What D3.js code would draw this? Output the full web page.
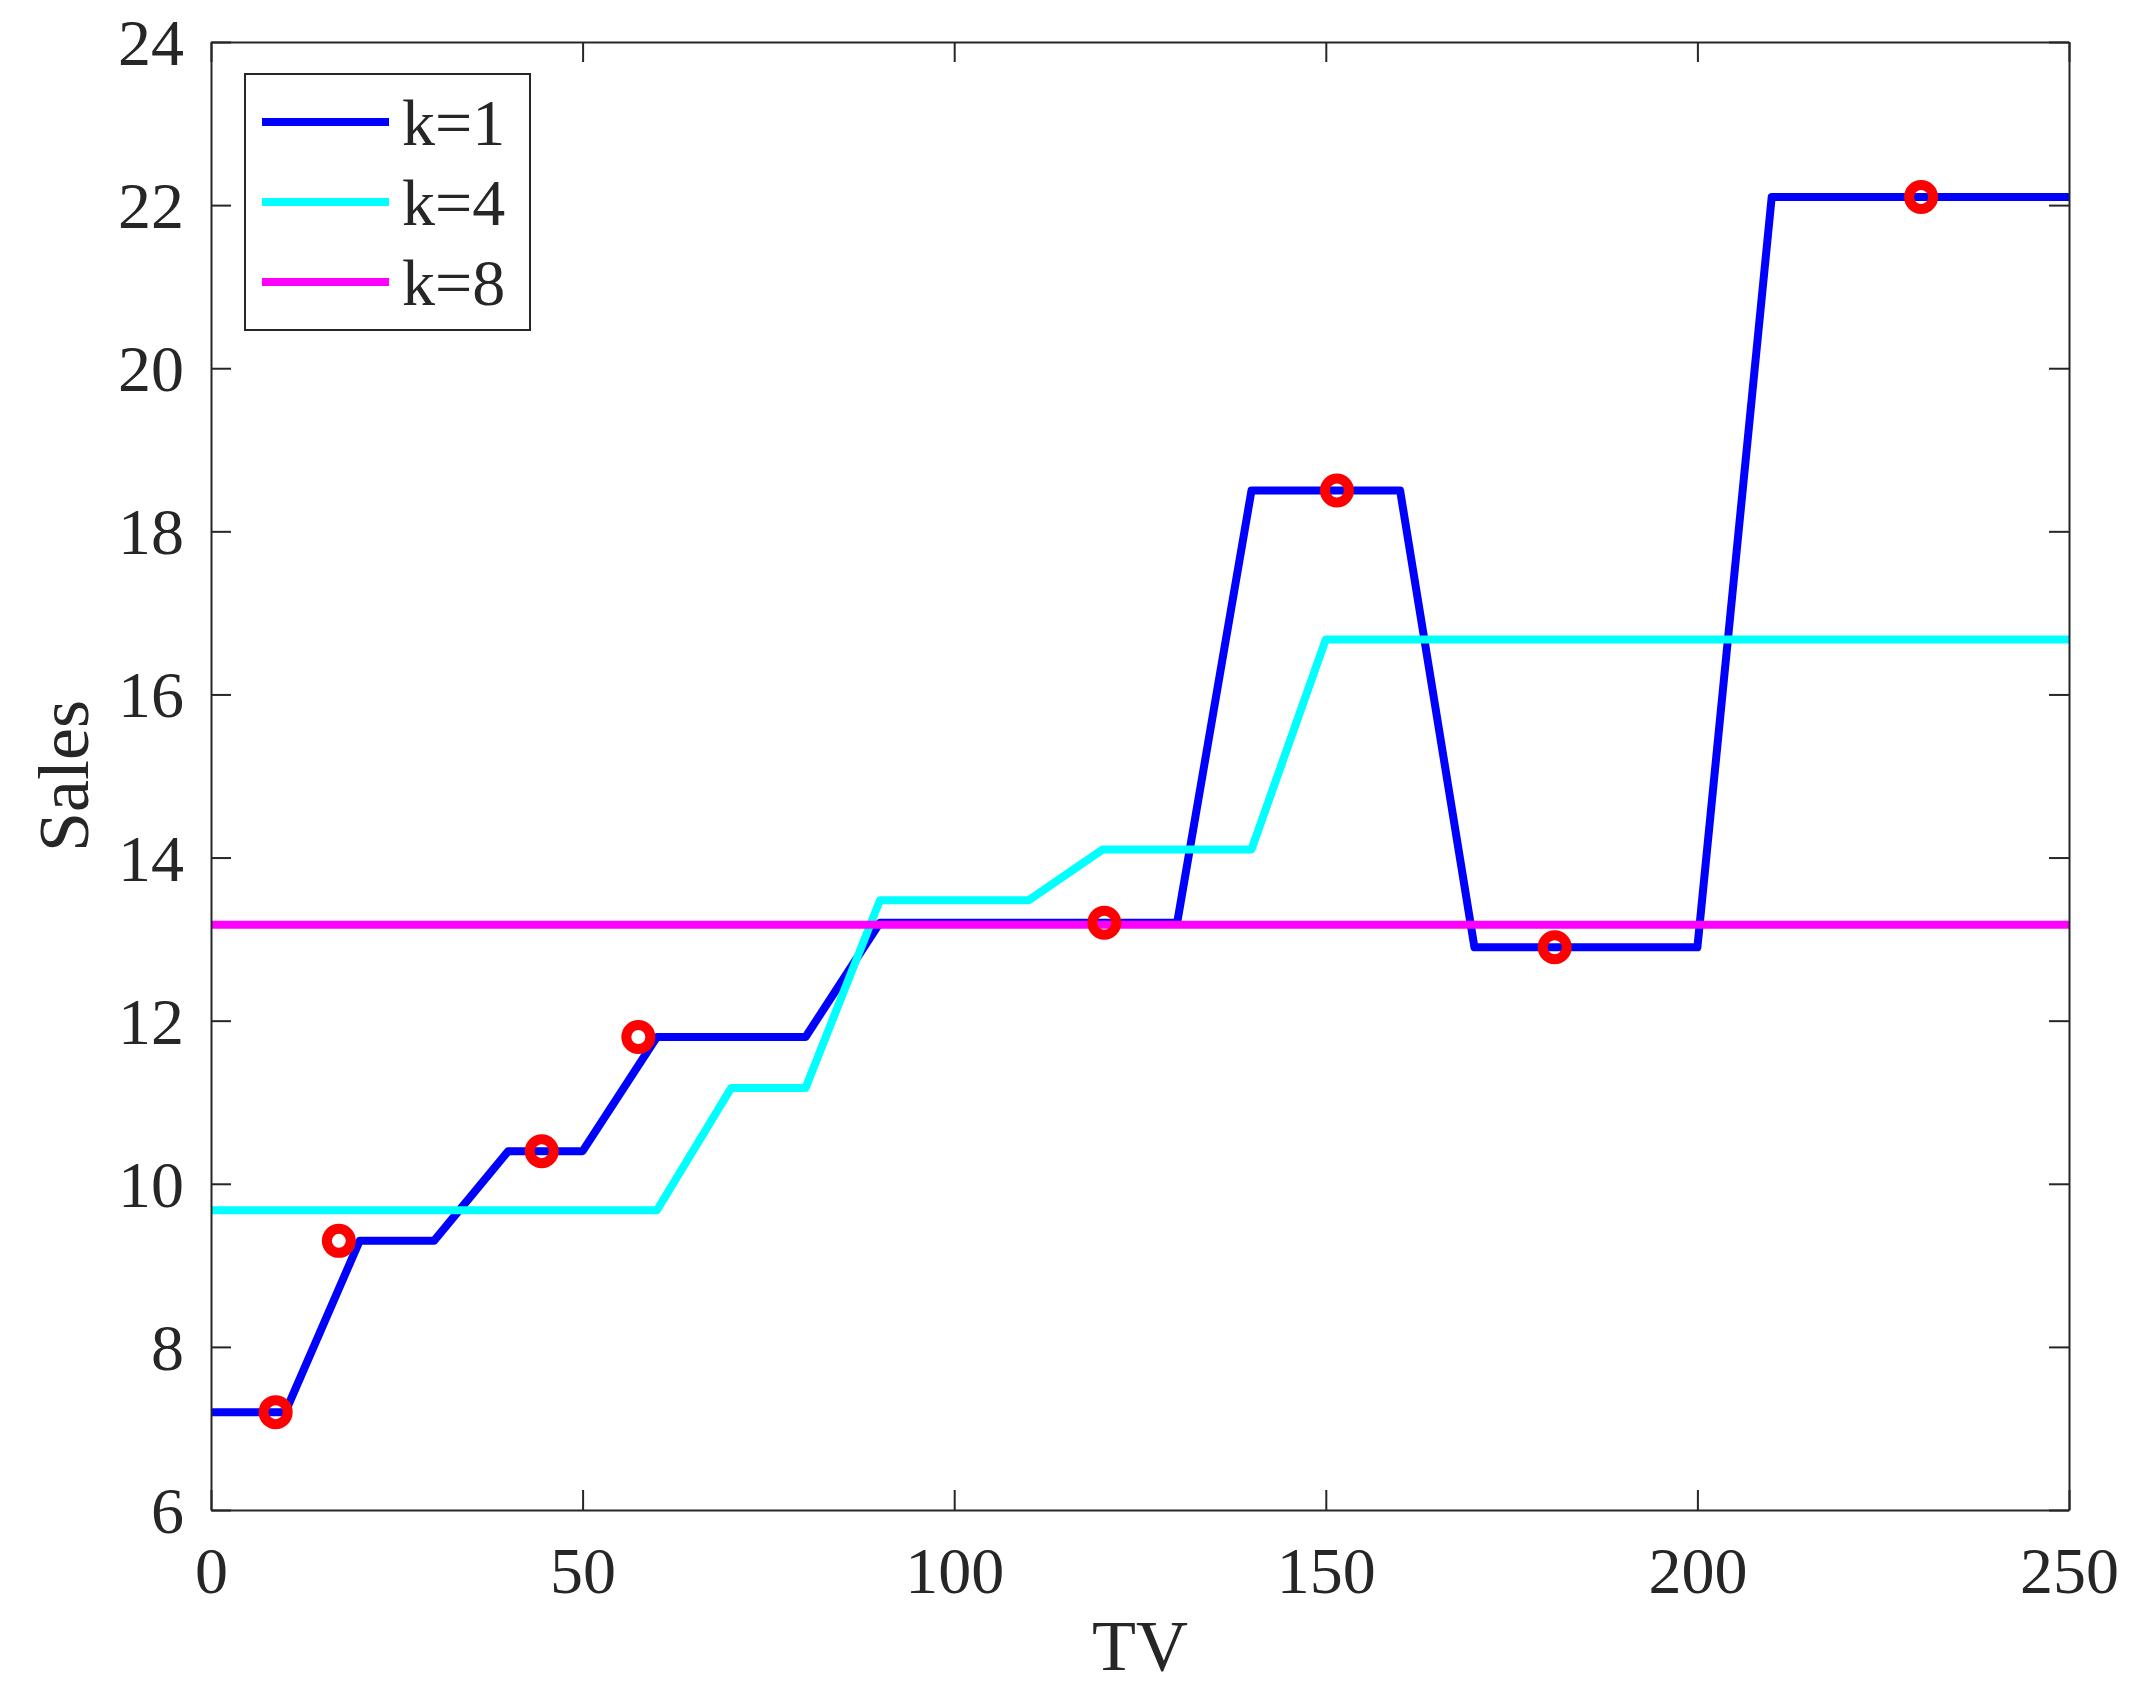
<!DOCTYPE html>
<html>
<head>
<meta charset="utf-8">
<script src="https://cdn.jsdelivr.net/npm/d3@7"></script>
<style>
  body { margin: 0; background: #fff; }
  text { font-family: "Liberation Serif", "Times New Roman", serif; fill: #262626; }
</style>
</head>
<body>
<svg class="chart"></svg>
<script>
let width = 2137,
  height = 1688;

// grid of TV values where the fits are evaluated
let tvGrid = [0, 10, 20, 30, 40, 50, 60, 70, 80, 90, 100, 110, 120, 130, 140, 150, 160, 170, 180, 190, 200, 210, 220, 230, 240, 250];
let fitK1 = [7.2, 7.2, 9.3, 9.3, 10.4, 10.4, 11.8, 11.8, 11.8, 13.2, 13.2, 13.2, 13.2, 13.2, 18.5, 18.5, 18.5, 12.9, 12.9, 12.9, 12.9, 22.1, 22.1, 22.1, 22.1, 22.1];
let fitK4 = [9.675, 9.675, 9.675, 9.675, 9.675, 9.675, 9.675, 11.175, 11.175, 13.475, 13.475, 13.475, 14.1, 14.1, 14.1, 16.675, 16.675, 16.675, 16.675, 16.675, 16.675, 16.675, 16.675, 16.675, 16.675, 16.675];
let fitK8 = [13.175, 13.175, 13.175, 13.175, 13.175, 13.175, 13.175, 13.175, 13.175, 13.175, 13.175, 13.175, 13.175, 13.175, 13.175, 13.175, 13.175, 13.175, 13.175, 13.175, 13.175, 13.175, 13.175, 13.175, 13.175, 13.175];

// training points
let trainTV = [230.1, 44.5, 17.2, 151.5, 180.8, 8.7, 57.5, 120.2];
let trainSales = [22.1, 10.4, 9.3, 18.5, 12.9, 7.2, 11.8, 13.2];

let seriesNames = ["k=1", "k=4", "k=8"];
let seriesColors = ["#0000ff", "#00ffff", "#ff00ff"];

let xTicks = [0, 50, 100, 150, 200, 250];
let yTicks = [6, 8, 10, 12, 14, 16, 18, 20, 22, 24];

let margin = { left: 211, right: 2069, top: 42, bottom: 1510 };

let svg = d3.select(".chart").attr("width", width).attr("height", height);

let x = d3.scaleLinear().domain([0, 250]).range([margin.left, margin.right]);
let y = d3.scaleLinear().domain([6, 24]).range([margin.bottom, margin.top]);

let axisColor = "#262626";
let tickLen = 20;

// lines
let fits = [fitK1, fitK4, fitK8];
let line = d3.line()
  .x((d, i) => x(tvGrid[i]))
  .y((d) => y(d));

svg.append("g")
  .attr("id", "fits")
  .selectAll("path")
  .data(fits)
  .enter()
  .append("path")
  .attr("d", (d) => line(d))
  .attr("fill", "none")
  .attr("stroke", (d, i) => seriesColors[i])
  .attr("stroke-width", 8)
  .attr("stroke-linejoin", "round");

// training points
svg.append("g")
  .attr("id", "points")
  .selectAll("circle")
  .data(trainTV)
  .enter()
  .append("circle")
  .attr("cx", (d) => x(d))
  .attr("cy", (d, i) => y(trainSales[i]))
  .attr("r", 12)
  .attr("fill", "none")
  .attr("stroke", "#ff0000")
  .attr("stroke-width", 10);

// axes (box with inward ticks)
let xAxis = svg.append("g")
  .attr("transform", `translate(0,${margin.bottom})`)
  .call(d3.axisBottom(x).tickValues(xTicks).tickSizeInner(-tickLen).tickSizeOuter(0).tickPadding(36));
let xAxisTop = svg.append("g")
  .attr("transform", `translate(0,${margin.top})`)
  .call(d3.axisTop(x).tickValues(xTicks).tickSizeInner(-tickLen).tickSizeOuter(0).tickFormat(""));
let yAxis = svg.append("g")
  .attr("transform", `translate(${margin.left},0)`)
  .call(d3.axisLeft(y).tickValues(yTicks).tickSizeInner(-tickLen).tickSizeOuter(0).tickPadding(27));
let yAxisRight = svg.append("g")
  .attr("transform", `translate(${margin.right},0)`)
  .call(d3.axisRight(y).tickValues(yTicks).tickSizeInner(-tickLen).tickSizeOuter(0).tickFormat(""));

[xAxis, xAxisTop, yAxis, yAxisRight].forEach((g) => {
  g.select(".domain").attr("stroke", axisColor).attr("stroke-width", 2);
  g.selectAll(".tick line").attr("stroke", axisColor).attr("stroke-width", 2);
  g.selectAll(".tick text")
    .attr("fill", axisColor)
    .style("font-family", '"Liberation Serif", "Times New Roman", serif')
    .style("font-size", "66px");
});
xAxis.selectAll(".tick text").attr("dy", "0.71em");
yAxis.selectAll(".tick text").attr("dy", "0.34em");

// axis labels
svg.append("text")
  .attr("x", (margin.left + margin.right) / 2)
  .attr("y", 1670)
  .attr("text-anchor", "middle")
  .style("font-size", "72px")
  .text("TV");

svg.append("text")
  .attr("transform", `translate(88,${(margin.top + margin.bottom) / 2}) rotate(-90)`)
  .attr("text-anchor", "middle")
  .style("font-size", "72px")
  .text("Sales");

// legend
let legend = svg.append("g").attr("id", "legend");
legend.append("rect")
  .attr("x", 245)
  .attr("y", 74)
  .attr("width", 285)
  .attr("height", 256)
  .attr("fill", "#fff")
  .attr("stroke", axisColor)
  .attr("stroke-width", 2);

let rows = legend.selectAll("g.row")
  .data(seriesNames)
  .enter()
  .append("g")
  .attr("class", "row")
  .attr("transform", (d, i) => `translate(0,${122 + i * 80})`);

rows.append("line")
  .attr("x1", 262)
  .attr("x2", 389)
  .attr("stroke", (d, i) => seriesColors[i])
  .attr("stroke-width", 8);

rows.append("text")
  .attr("x", 402)
  .attr("y", 23)
  .style("font-size", "66px")
  .text((d) => d);
</script>
</body>
</html>
